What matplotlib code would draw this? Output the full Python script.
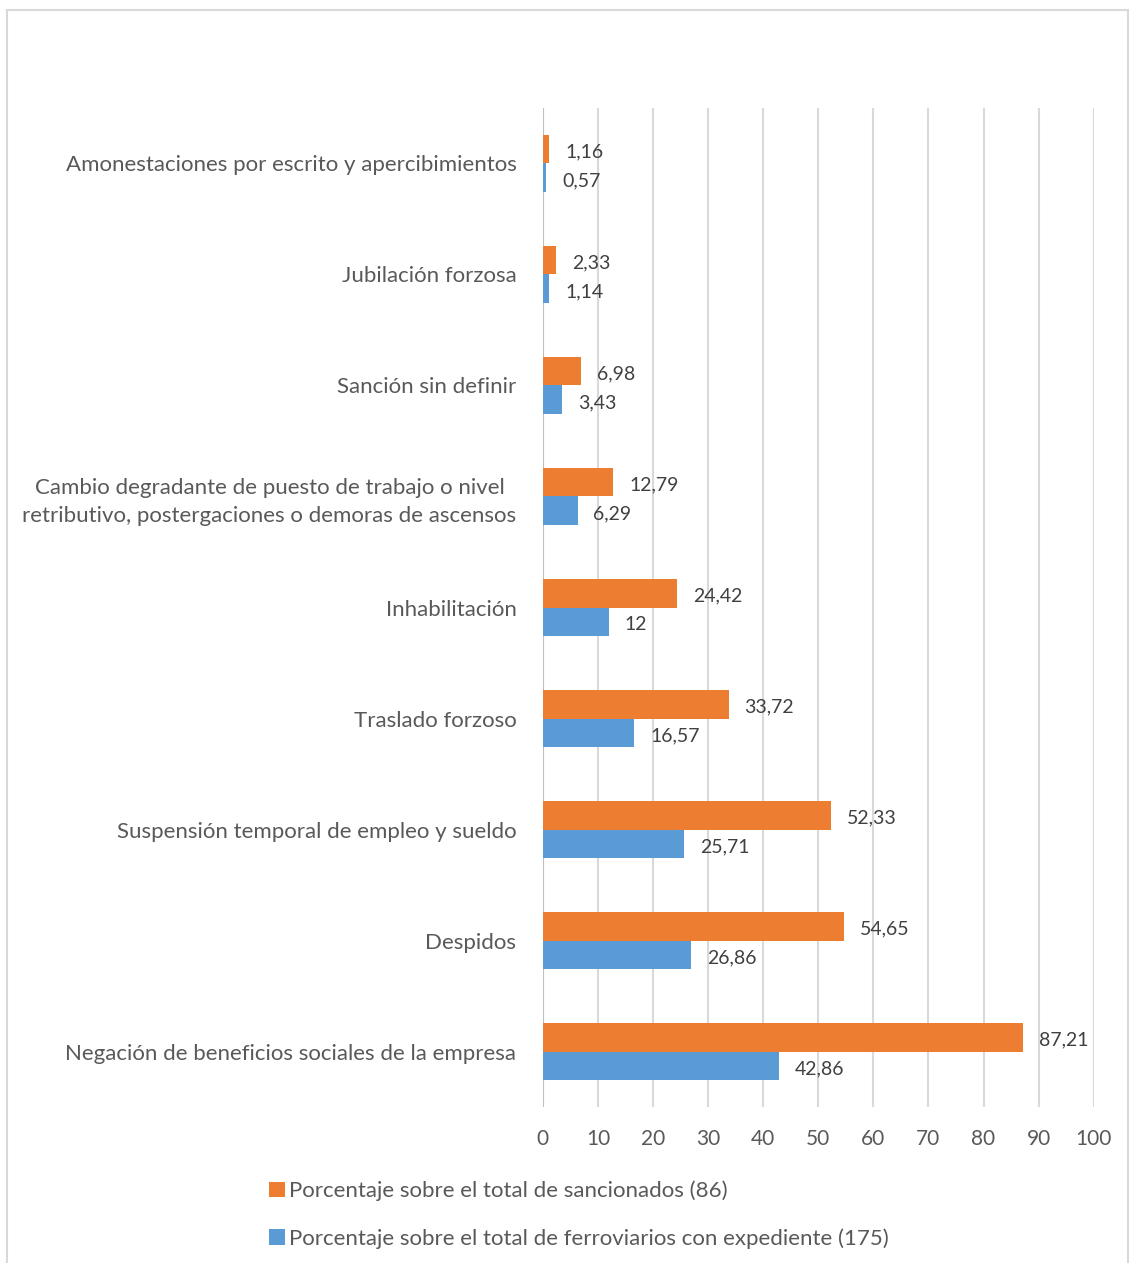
import numpy as np
import matplotlib
matplotlib.use("Agg")
import matplotlib.pyplot as plt
from matplotlib.patches import Rectangle

plt.rcParams["font.family"] = ["Lato", "DejaVu Sans"]

# categories top -> bottom as in the chart
CATS = [
    "Amonestaciones por escrito y apercibimientos",
    "Jubilación forzosa",
    "Sanción sin definir",
    "Cambio degradante de puesto de trabajo o nivel\nretributivo, postergaciones o demoras de ascensos",
    "Inhabilitación",
    "Traslado forzoso",
    "Suspensión temporal de empleo y sueldo",
    "Despidos",
    "Negación de beneficios sociales de la empresa",
]
SANC = [1.16, 2.33, 6.98, 12.79, 24.42, 33.72, 52.33, 54.65, 87.21]
EXPED = [0.57, 1.14, 3.43, 6.29, 12, 16.57, 25.71, 26.86, 42.86]
SANC_LBL = ["1,16", "2,33", "6,98", "12,79", "24,42", "33,72", "52,33", "54,65", "87,21"]
EXPED_LBL = ["0,57", "1,14", "3,43", "6,29", "12", "16,57", "25,71", "26,86", "42,86"]
NAME_S = "Porcentaje sobre el total de sancionados (86)"
NAME_E = "Porcentaje sobre el total de ferroviarios con expediente (175)"

ORANGE, BLUE = "#ED7D31", "#5B9BD5"
TXT = "#595959"
GRID = "#D9D9D9"

fig = plt.figure(figsize=(11.31, 12.63), dpi=100)
ax = fig.add_axes([0.480, 0.1235, 0.487, 0.791])

n = len(CATS)
y = np.arange(n)[::-1]          # top category at highest y
h = 0.26
bs = ax.barh(y + h / 2, SANC, height=h, color=ORANGE, label=NAME_S, zorder=3)
be = ax.barh(y - h / 2, EXPED, height=h, color=BLUE, label=NAME_E, zorder=3)

dy = 0.025  # nudge labels slightly down
for yi, v, s in zip(y, SANC, SANC_LBL):
    ax.text(v + 2.9, yi + h / 2 - dy, s, va="center", ha="left", fontsize=14, color="#404040")
for yi, v, s in zip(y, EXPED, EXPED_LBL):
    ax.text(v + 2.9, yi - h / 2 - dy, s, va="center", ha="left", fontsize=14, color="#404040")

ax.set_xlim(0, 100)
ax.set_ylim(-0.5, n - 0.5)
ax.set_xticks(np.arange(0, 101, 10))
ax.set_yticks(y)
ax.set_yticklabels(CATS, multialignment="center")
for lab in ax.get_yticklabels():
    lab.set_linespacing(1.45)
ax.tick_params(axis="y", length=0, pad=19, labelsize=16, labelcolor=TXT)
ax.tick_params(axis="x", length=0, pad=16, labelsize=15, labelcolor=TXT)
ax.grid(axis="x", color=GRID, lw=1.5, zorder=0)
for sp in ax.spines.values():
    sp.set_visible(False)
ax.axvline(0, color="#BFBFBF", lw=1.5, zorder=2)

leg = fig.legend(handles=[bs, be], loc="upper left", bbox_to_anchor=(0.228, 0.074),
                 frameon=False, fontsize=16, labelcolor=TXT, handlelength=0.7,
                 handleheight=0.7, handletextpad=0.2, labelspacing=1.2,
                 borderpad=0)

fig.patches.append(Rectangle((7 / 1131, -0.05), 1121 / 1131, 1.05 - 10 / 1263,
                             transform=fig.transFigure, fill=False,
                             edgecolor=GRID, lw=1.5))

fig.savefig("out.png", dpi=100)
